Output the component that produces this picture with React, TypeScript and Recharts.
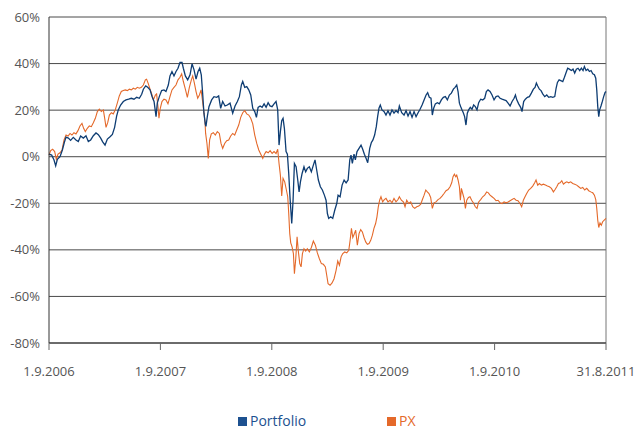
import { LineChart, Line, XAxis, YAxis, CartesianGrid, ReferenceLine } from "recharts"

// x = years since 1.9.2006, values in %
const portfolioT = [
  0, 0.024, 0.045, 0.06, 0.075, 0.099, 0.12, 0.138, 0.153, 0.174, 0.194, 0.218, 0.242, 0.263, 0.284, 0.308,
  0.332, 0.353, 0.374, 0.398, 0.422, 0.443, 0.464, 0.482, 0.503, 0.524, 0.548, 0.569, 0.589, 0.607, 0.622, 0.643,
  0.667, 0.691, 0.715, 0.739, 0.763, 0.787, 0.811, 0.832, 0.847, 0.868, 0.886, 0.907, 0.925, 0.943, 0.961, 0.972,
  0.99, 1.011, 1.032, 1.05, 1.071, 1.086, 1.104, 1.122, 1.14, 1.158, 1.176, 1.194, 1.206, 1.224, 1.245, 1.266,
  1.284, 1.302, 1.32, 1.338, 1.353, 1.367, 1.379, 1.391, 1.403, 1.409, 1.421, 1.436, 1.46, 1.481, 1.505, 1.523,
  1.541, 1.559, 1.58, 1.601, 1.625, 1.649, 1.67, 1.691, 1.709, 1.727, 1.739, 1.757, 1.775, 1.793, 1.811, 1.829,
  1.847, 1.862, 1.877, 1.895, 1.913, 1.931, 1.949, 1.967, 1.984, 2.002, 2.02, 2.038, 2.053, 2.065, 2.077, 2.089,
  2.101, 2.113, 2.128, 2.14, 2.152, 2.164, 2.179, 2.191, 2.203, 2.218, 2.233, 2.245, 2.257, 2.272, 2.289, 2.304,
  2.319, 2.337, 2.355, 2.373, 2.388, 2.403, 2.418, 2.436, 2.454, 2.472, 2.487, 2.499, 2.511, 2.529, 2.547, 2.565,
  2.583, 2.595, 2.613, 2.631, 2.649, 2.667, 2.685, 2.7, 2.711, 2.723, 2.738, 2.75, 2.765, 2.783, 2.801, 2.816,
  2.831, 2.846, 2.861, 2.879, 2.893, 2.908, 2.923, 2.938, 2.95, 2.962, 2.974, 2.989, 3.007, 3.025, 3.043, 3.061,
  3.079, 3.097, 3.115, 3.133, 3.145, 3.166, 3.187, 3.205, 3.223, 3.241, 3.259, 3.277, 3.295, 3.313, 3.331, 3.349,
  3.367, 3.385, 3.399, 3.414, 3.429, 3.441, 3.453, 3.468, 3.486, 3.504, 3.522, 3.54, 3.558, 3.576, 3.594, 3.612,
  3.63, 3.645, 3.66, 3.672, 3.684, 3.696, 3.708, 3.719, 3.731, 3.743, 3.755, 3.767, 3.782, 3.797, 3.812, 3.827,
  3.842, 3.857, 3.875, 3.893, 3.911, 3.926, 3.941, 3.959, 3.977, 3.995, 4.013, 4.031, 4.049, 4.067, 4.085, 4.103,
  4.121, 4.139, 4.157, 4.175, 4.187, 4.199, 4.216, 4.234, 4.246, 4.261, 4.276, 4.294, 4.312, 4.33, 4.348, 4.363,
  4.375, 4.387, 4.402, 4.417, 4.432, 4.45, 4.468, 4.486, 4.504, 4.522, 4.54, 4.552, 4.564, 4.579, 4.594, 4.612,
  4.627, 4.642, 4.656, 4.671, 4.689, 4.704, 4.719, 4.734, 4.749, 4.764, 4.779, 4.794, 4.806, 4.821, 4.836, 4.851,
  4.866, 4.881, 4.896, 4.908, 4.917, 4.926, 4.935, 4.943, 4.955, 4.967, 4.979, 4.991, 5,
]
const portfolioValues = [
  1.1, 0.7, -1.4, -3.9, -1.1, 0, 2.9, 6.2, 8.4, 8.0, 7.0, 8.3, 7.2, 6.5, 8.9, 8.0,
  9.0, 6.5, 7.2, 9.0, 10.2, 9.5, 8.0, 6.4, 5, 7.6, 8.6, 9.6, 12.6, 17.4, 20.1, 22.2,
  23.7, 24.4, 24.7, 25.1, 24.7, 25.5, 25.1, 26.8, 29, 30.4, 29.8, 28.7, 25.8, 23.7, 17.2, 23,
  25.8, 28.4, 28.7, 28, 30.8, 34.7, 36.6, 34.7, 36.6, 38, 40.5, 40.5, 38, 34.7, 33, 35.2,
  39.9, 37.3, 33.3, 36.6, 38, 35.2, 27.3, 18.7, 14, 13, 17.2, 21.5, 24.4, 25.8, 25.5, 26.1,
  20.8, 23.7, 21.8, 22.2, 23, 18.7, 21.8, 23.7, 25.8, 30.8, 32.3, 29.8, 30.1, 28.7, 26.5, 20.8,
  19.4, 16.9, 21.2, 21.8, 21.2, 22.7, 21.2, 23.2, 21.8, 21.5, 22.7, 23.7, 20.1, 5, 10.8, 15.5,
  16.5, 12.2, 2.2, 1.1, -7.2, -17.9, -28.7, -18.7, -2.9, -4.3, -10, -15.1, -10.8, -7.2, -4.3, -6.5,
  -5, -4.3, -6.5, -3.6, -1.4, -5.7, -10, -12.9, -14.3, -16.5, -18.7, -24.4, -26.5, -25.8, -26.5, -23,
  -20.1, -16.5, -17.2, -12.2, -10, -11.2, -10, -1.4, 0.7, -2.9, 1.1, -1.4, 2.2, 3.6, 5, 3.2,
  1.1, -0.7, -2.6, 3.6, 6, 7.2, 9.3, 12.9, 17.2, 20.8, 22.2, 20.1, 19.4, 17.9, 19.7, 17.9,
  20.1, 18.7, 19.8, 18.9, 21.8, 18.9, 17.9, 19.8, 17.5, 19.4, 16.9, 19.4, 17.2, 18.9, 20.4, 22.2,
  24.4, 26.5, 27.5, 25.5, 25.1, 17.9, 20.8, 22.7, 23.2, 22.7, 24.4, 25.5, 25.8, 24.4, 26.5, 27.3,
  29, 29.8, 30.8, 28, 23, 21.5, 20.1, 18.9, 17.2, 13.6, 18.7, 20.1, 21.2, 20.4, 22.2, 21.5,
  20.1, 23.2, 24.7, 24.4, 25.1, 28, 28.7, 28, 26.5, 24.4, 25.8, 26.1, 25.1, 24.7, 24.4, 24.1,
  23, 21.8, 23.7, 25.1, 26.5, 24.4, 22.7, 21.2, 19.4, 23.7, 24.7, 25.5, 25.8, 27.3, 29, 29.8,
  31.6, 30.4, 29, 28.4, 27, 25.8, 26.5, 25.5, 25.8, 25.5, 25.8, 29.4, 31.9, 33, 32.7, 32.3,
  34.1, 36.2, 38, 37.6, 37, 37.6, 35.9, 37.6, 38, 37, 38, 37, 38.7, 37, 37.6, 36.6,
  37, 35.6, 35.2, 33.7, 28.7, 21.5, 17.2, 20.1, 21.8, 23.7, 25.8, 27.5, 28,
]

const pxT = [
  0, 0.015, 0.033, 0.051, 0.066, 0.081, 0.099, 0.117, 0.135, 0.153, 0.171, 0.189, 0.206, 0.224, 0.242, 0.26,
  0.278, 0.296, 0.311, 0.326, 0.344, 0.362, 0.38, 0.398, 0.416, 0.434, 0.452, 0.47, 0.488, 0.5, 0.512, 0.527,
  0.542, 0.56, 0.577, 0.595, 0.613, 0.631, 0.649, 0.667, 0.685, 0.703, 0.721, 0.739, 0.757, 0.775, 0.793, 0.811,
  0.829, 0.847, 0.865, 0.876, 0.892, 0.907, 0.922, 0.937, 0.955, 0.966, 0.978, 0.987, 0.999, 1.014, 1.032, 1.05,
  1.068, 1.086, 1.104, 1.122, 1.14, 1.158, 1.176, 1.191, 1.206, 1.224, 1.242, 1.26, 1.278, 1.29, 1.305, 1.32,
  1.335, 1.35, 1.365, 1.377, 1.388, 1.4, 1.406, 1.418, 1.43, 1.442, 1.457, 1.475, 1.493, 1.511, 1.529, 1.544,
  1.559, 1.577, 1.595, 1.613, 1.631, 1.649, 1.667, 1.685, 1.703, 1.721, 1.739, 1.757, 1.775, 1.793, 1.811, 1.829,
  1.847, 1.865, 1.883, 1.901, 1.919, 1.934, 1.949, 1.967, 1.985, 2.003, 2.02, 2.038, 2.053, 2.065, 2.077, 2.089,
  2.101, 2.116, 2.131, 2.143, 2.152, 2.161, 2.17, 2.182, 2.194, 2.203, 2.215, 2.227, 2.239, 2.251, 2.263, 2.275,
  2.289, 2.304, 2.319, 2.337, 2.355, 2.373, 2.391, 2.409, 2.427, 2.445, 2.463, 2.481, 2.493, 2.505, 2.523, 2.541,
  2.559, 2.577, 2.592, 2.607, 2.622, 2.637, 2.655, 2.673, 2.691, 2.703, 2.715, 2.727, 2.742, 2.753, 2.768, 2.783,
  2.798, 2.813, 2.828, 2.843, 2.858, 2.873, 2.888, 2.903, 2.917, 2.932, 2.944, 2.956, 2.968, 2.98, 2.995, 3.01,
  3.025, 3.043, 3.061, 3.079, 3.097, 3.115, 3.133, 3.145, 3.163, 3.181, 3.196, 3.211, 3.229, 3.247, 3.265, 3.283,
  3.301, 3.319, 3.337, 3.352, 3.367, 3.382, 3.396, 3.411, 3.426, 3.441, 3.456, 3.474, 3.492, 3.51, 3.528, 3.546,
  3.564, 3.582, 3.6, 3.615, 3.627, 3.639, 3.651, 3.66, 3.672, 3.684, 3.693, 3.702, 3.714, 3.726, 3.738, 3.75,
  3.765, 3.779, 3.794, 3.809, 3.827, 3.842, 3.857, 3.875, 3.893, 3.911, 3.929, 3.944, 3.959, 3.977, 3.995, 4.013,
  4.031, 4.049, 4.067, 4.085, 4.103, 4.121, 4.139, 4.157, 4.175, 4.193, 4.21, 4.228, 4.243, 4.258, 4.273, 4.288,
  4.306, 4.324, 4.342, 4.36, 4.372, 4.387, 4.402, 4.42, 4.438, 4.456, 4.474, 4.492, 4.51, 4.528, 4.543, 4.558,
  4.573, 4.588, 4.603, 4.618, 4.633, 4.648, 4.665, 4.683, 4.701, 4.719, 4.737, 4.755, 4.773, 4.791, 4.809, 4.827,
  4.845, 4.863, 4.881, 4.896, 4.908, 4.917, 4.926, 4.935, 4.946, 4.958, 4.97, 4.982, 5,
]
const pxValues = [
  0.7, 2.6, 3.2, 2.2, -1.1, 1.1, 1.7, 2.9, 7.2, 9.3, 8.9, 10, 9.3, 10.3, 9.8, 11.2,
  13.2, 14.3, 12.2, 10.8, 12.2, 13.2, 12.9, 14.6, 16.5, 19.4, 20.4, 19.4, 20.1, 16.5, 12.6, 14.6,
  17.9, 18.9, 18.4, 20.1, 23, 26.1, 28, 28.4, 28.7, 28.4, 29, 28.7, 29.4, 29, 29.8, 29.4,
  29.8, 30.8, 33, 33.3, 31.3, 29, 27, 24.4, 26.5, 27, 21.5, 16.5, 20.8, 23.7, 24.7, 24.4,
  22.7, 25.8, 28.7, 29.8, 30.8, 33, 34.1, 35.6, 32.3, 29, 25.5, 29.8, 33, 34.7, 31.6, 28,
  25.1, 26.5, 28.7, 24.4, 20.1, 15.1, 10, 5.7, -0.7, 7.2, 9.8, 10.3, 9.3, 10.8, 10, 5.7,
  3.6, 5.7, 6.9, 7.2, 8.9, 10, 9.3, 11.5, 13.6, 16.9, 18.9, 19.8, 18.4, 17.9, 16.5, 14.1,
  9.3, 5.7, 2.9, 1.1, -0.7, 1.1, 2.2, 1.7, 2.6, 1.4, 2.2, 1.4, 3.2, -2.9, -7.9, -16.9,
  -9.3, -10.8, -14.3, -17.2, -24.4, -33, -37, -38.7, -41.6, -50.2, -43.8, -34.4, -40.9, -45.9, -47.3, -41.6,
  -39.5, -40.5, -39.5, -40.9, -39, -36.2, -38, -41.3, -43.8, -45.9, -46.2, -47.3, -50.9, -54.5, -55.2, -54.2,
  -52.4, -48.8, -44.8, -46.6, -43, -41.6, -40.9, -41.3, -40.2, -35.9, -30.8, -34.7, -33, -31.6, -38, -33,
  -31.3, -32.3, -34.7, -36.6, -37.6, -37.3, -35.9, -33.7, -30.8, -28.7, -25.8, -21.5, -18.7, -17.2, -19.4, -18.4,
  -17.9, -19.4, -18.7, -19.8, -17.9, -19.4, -18.4, -17.2, -18.7, -19.4, -21.5, -18.7, -20.1, -19.4, -21.5, -22.2,
  -21.5, -21.2, -20.4, -18.4, -16.5, -14.3, -15.1, -15.8, -17.5, -22.2, -19.8, -19.4, -18.4, -17.9, -16.9, -15.8,
  -14.6, -14.1, -12.9, -11.2, -8.6, -7.5, -8.6, -7.9, -10, -12.9, -18.7, -13.6, -15.8, -17.9, -22.2, -18.7,
  -17.5, -17.2, -18.7, -19.8, -21.5, -22.2, -19.4, -18.4, -17.2, -16.5, -15.1, -15.5, -16.5, -17.2, -17.9, -18.9,
  -18.7, -19.8, -20.1, -19.4, -19.8, -19.4, -18.9, -18.4, -17.9, -18.7, -18.9, -20.1, -21.5, -18.7, -17.2, -15.8,
  -14.3, -13.6, -12.6, -11.2, -10, -12.2, -11.5, -12.2, -11.8, -12.2, -12.6, -12.9, -13.6, -15.1, -14.1, -12.9,
  -11.5, -11.2, -10.3, -11.8, -11.2, -10.8, -11.2, -10.8, -11.5, -11.8, -12.2, -12.9, -13.6, -13.2, -14.3, -13.6,
  -14.6, -15.1, -15.5, -16.5, -18.4, -22.2, -27.3, -30.4, -28.4, -29.4, -27.9, -27.3, -26.5,
]

const yearTicks = [0, 1, 2, 3, 4, 5]
const tickLabels = ["1.9.2006", "1.9.2007", "1.9.2008", "1.9.2009", "1.9.2010", "31.8.2011"]
const percentTicks = [-80, -60, -40, -20, 0, 20, 40, 60]

const portfolioData = portfolioT.map((t, i) => ({ t, v: portfolioValues[i] }))
const pxData = pxT.map((t, i) => ({ t, v: pxValues[i] }))

const BLUE = "#0e3d73"
const ORANGE = "#e4692a"

export default function App() {
  return (
    <div
      style={{
        position: "absolute",
        left: 0,
        top: 0,
        width: 636,
        height: 432,
        overflow: "hidden",
        background: "#fff",
        fontFamily: '"Open Sans", sans-serif',
      }}
    >
      <LineChart width={636} height={432} margin={{ top: 17, right: 30, left: 0, bottom: 49 }}>
        <CartesianGrid vertical={false} stroke="#4a4a4a" />
        <XAxis
          type="number"
          dataKey="t"
          domain={[0, 5]}
          ticks={yearTicks}
          interval={0}
          tickFormatter={(v) => tickLabels[v]}
          tick={{ fill: "#555", fontSize: 13 }}
          tickLine={{ stroke: "#666" }}
          tickSize={7}
          tickMargin={17}
          axisLine={{ stroke: "#333" }}
          height={40}
        />
        <YAxis
          type="number"
          domain={[-80, 60]}
          ticks={percentTicks}
          interval={0}
          tickFormatter={(v) => `${v}%`}
          tick={{ fill: "#555", fontSize: 13 }}
          tickLine={false}
          tickSize={0}
          tickMargin={9}
          axisLine={{ stroke: "#333" }}
          width={49}
        />
        <ReferenceLine x={5} stroke="#777" />
        <Line data={pxData} dataKey="v" type="linear" stroke={ORANGE} strokeWidth={1.1} dot={false} isAnimationActive={false} />
        <Line data={portfolioData} dataKey="v" type="linear" stroke={BLUE} strokeWidth={1.3} dot={false} isAnimationActive={false} />
      </LineChart>
      <div style={{ position: "absolute", top: 412, left: 0, width: 636, fontSize: 14, lineHeight: "18px" }}>
        <span style={{ position: "absolute", left: 238, top: 5, width: 9, height: 9, background: "#1d5190" }} />
        <span style={{ position: "absolute", left: 250, top: 0, color: "#1d5190" }}>Portfolio</span>
        <span style={{ position: "absolute", left: 387, top: 5, width: 9, height: 9, background: ORANGE }} />
        <span style={{ position: "absolute", left: 399, top: 0, color: ORANGE }}>PX</span>
      </div>
    </div>
  )
}
